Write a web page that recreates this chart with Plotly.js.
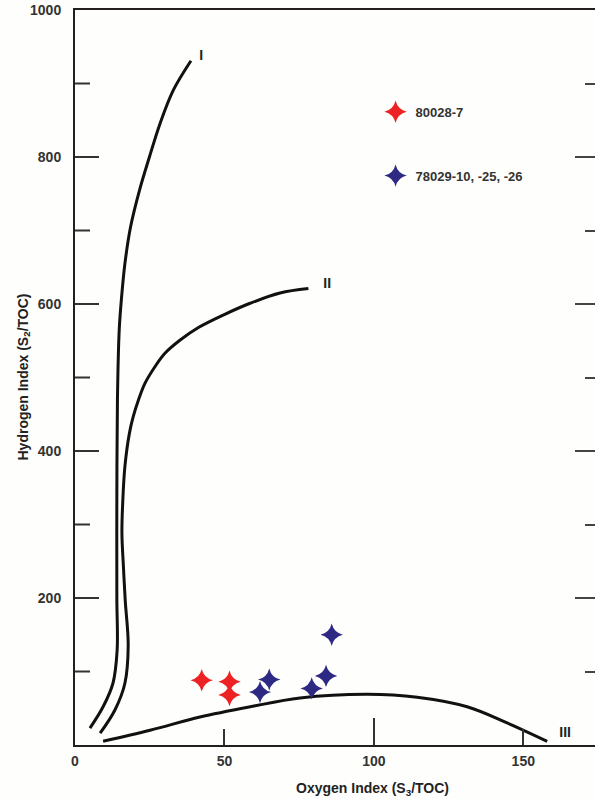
<!DOCTYPE html>
<html><head><meta charset="utf-8">
<script src="https://cdn.plot.ly/plotly-3.0.1.min.js"></script>
<style>body{margin:0;background:#fefefc}</style>
</head><body><div id="chart" style="width:595px;height:799px"></div>
<script>
// Kerogen type curves (Oxygen Index, Hydrogen Index)
const curveIX = [5.0, 9.4, 12.7, 14.1, 14.0, 14.0, 14.2, 14.8, 15.6, 16.7, 18.6, 21.6, 24.9, 28.5, 32.9, 38.8];
const curveIY = [23, 52, 84, 129, 200, 333, 469, 565, 610, 655, 705, 755, 800, 846, 891, 931];
const curveIIX = [8.4, 13.4, 16.7, 17.8, 16.8, 16.2, 15.7, 16.0, 16.7, 18.2, 19.5, 21.2, 23.4, 26.8, 30.1, 35.2, 41.3, 49.6, 58.6, 68.6, 78.1];
const curveIIY = [16, 48, 84, 135, 197, 243, 288, 333, 379, 424, 447, 469, 492, 515, 533, 551, 568, 585, 601, 615, 621];
const curveIIIX = [9.4, 25.1, 41.8, 58.6, 75.3, 97.8, 114.5, 131.2, 144.6, 158];
const curveIIIY = [5, 20, 38, 52, 64, 69, 65, 52, 30, 5];
const curveLabels = ["I", "II", "III"];
const curveLabelX = [42.2, 84.4, 164];
const curveLabelY = [937, 627, 16];

// Samples
const seriesNames = ["80028-7", "78029-10, -25, -26"];
const redX = [42.4, 51.7, 51.7];
const redY = [88, 86, 68];
const blueX = [65.0, 61.9, 79.2, 84.0, 85.9];
const blueY = [89, 72, 77, 94, 150];

const xTickVals = [0, 50, 100, 150];
const xMajorTick = [100];
const yTickVals = [200, 400, 600, 800, 1000];
const yMajorVals = [200, 400, 600, 800];
const yMinorVals = [100, 300, 500, 700, 900];

const FONT = "Liberation Sans, Arial, sans-serif";
const curveLine = {color: "#111", width: 3, shape: "spline", smoothing: 1};
const hidden = {mode: "markers", marker: {opacity: 0}, showlegend: false, hoverinfo: "skip"};

const traces = [
  {x: curveIX, y: curveIY, mode: "lines", line: curveLine, showlegend: false, hoverinfo: "skip"},
  {x: curveIIX, y: curveIIY, mode: "lines", line: curveLine, showlegend: false, hoverinfo: "skip"},
  {x: curveIIIX, y: curveIIIY, mode: "lines", line: curveLine, showlegend: false, hoverinfo: "skip"},
  {x: curveLabelX, y: curveLabelY, mode: "text", text: curveLabels, textposition: "middle center",
   textfont: {family: FONT, size: 14, color: "#222", weight: "bold"}, showlegend: false, cliponaxis: false},
  {x: redX, y: redY, mode: "markers", name: seriesNames[0], legendgroup: "a",
   marker: {symbol: "star-diamond", size: 16, color: "#ed2224", line: {width: 0}}},
  {x: blueX, y: blueY, mode: "markers", name: seriesNames[1], legendgroup: "b",
   marker: {symbol: "star-diamond", size: 16, color: "#2e2a84", line: {width: 0}}},
  Object.assign({x: [0], y: [0], yaxis: "y2"}, hidden),
  Object.assign({x: [0], y: [0], yaxis: "y4"}, hidden),
  Object.assign({x: [0], y: [0], xaxis: "x2"}, hidden)
];

const tickAxis = (vals, side, len, color) => ({
  range: [0, 1000], overlaying: "y", side: side, tickmode: "array", tickvals: vals, ticks: "inside",
  ticklen: len, tickwidth: 2, tickcolor: color, showticklabels: false, showline: false,
  showgrid: false, zeroline: false
});

// left-side inward tick marks, positioned on the y scale at the tick values
const PLOT_W = 520;
const leftTicks = yMajorVals.map(v => ({type: "line", xref: "paper", yref: "y", x0: 0, x1: 24 / PLOT_W,
  y0: v, y1: v, line: {color: "#333", width: 2}, layer: "above"}))
  .concat(yMinorVals.map(v => ({type: "line", xref: "paper", yref: "y", x0: 0, x1: 15 / PLOT_W,
  y0: v, y1: v, line: {color: "#333", width: 2}, layer: "above"})));

const layout = {
  width: 595, height: 799,
  margin: {l: 75, r: 0, t: 10, b: 54},
  paper_bgcolor: "#fefefc", plot_bgcolor: "#fefefc",
  font: {family: FONT, color: "#333"},
  showlegend: true,
  legend: {x: 0.578, y: 0.882, xanchor: "left", yanchor: "top", bgcolor: "rgba(0,0,0,0)",
           font: {family: FONT, size: 13, color: "#333", weight: "bold"},
           tracegroupgap: 44, traceorder: "grouped"},
  xaxis: {range: [0, 174], tickvals: xTickVals, ticks: "inside", ticklen: 16, tickwidth: 2, tickcolor: "#333",
          showline: true, linewidth: 2, linecolor: "#231f20", mirror: true, showgrid: false, zeroline: false,
          tickfont: {family: FONT, size: 14, color: "#333", weight: "bold"}, ticklabelstandoff: 2},
  xaxis2: {range: [0, 174], overlaying: "x", anchor: "y", side: "bottom", tickvals: xMajorTick, ticks: "inside",
           ticklen: 27, tickwidth: 2, tickcolor: "#333", showticklabels: false, showline: false,
           showgrid: false, zeroline: false},
  yaxis: {range: [0, 1000], tickmode: "array", tickvals: yTickVals, ticks: "",
          showline: true, linewidth: 2, linecolor: "#231f20", showgrid: false, zeroline: false,
          tickfont: {family: FONT, size: 14, color: "#333", weight: "bold"}, ticklabelstandoff: 9},
  yaxis2: tickAxis(yMajorVals, "right", 20, "#444"),
  yaxis4: tickAxis(yMinorVals, "right", 10, "#444"),
  shapes: leftTicks,
  annotations: [
    {text: "Oxygen Index (S<sub>3</sub>/TOC)", xref: "paper", yref: "paper", x: 0.573, y: -0.045,
     xanchor: "center", yanchor: "top", showarrow: false,
     font: {family: FONT, size: 14, color: "#222", weight: "bold"}},
    {text: "Hydrogen Index (S<sub>2</sub>/TOC)", xref: "paper", yref: "paper", x: -0.1, y: 0.5,
     xanchor: "center", yanchor: "middle", textangle: -90, showarrow: false,
     font: {family: FONT, size: 14, color: "#222", weight: "bold"}}
  ]
};

Plotly.newPlot("chart", traces, layout, {displayModeBar: false, staticPlot: true});
</script></body></html>
